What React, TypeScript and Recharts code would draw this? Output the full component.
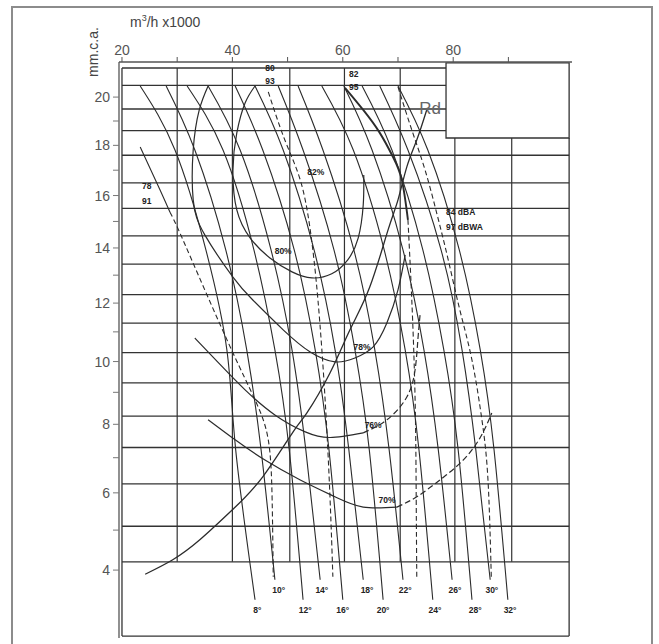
import React from 'react';
import { ComposedChart, Line, Scatter, XAxis, YAxis, ReferenceArea } from 'recharts';

// pressure axis is a power scale (exponent 0.65) - values are transformed before plotting
const EXP = 0.65;
const T = (p: number) => Math.pow(p, EXP);

const flowTicks = [20, 30, 40, 50, 60, 70, 80, 90];
const pressureTicks = [4, 5, 6, 7, 8, 9, 10, 11, 12, 13, 14, 15, 16, 17, 18, 19, 20];

// chart frame (data units)
const qMin = 19.46;
const qMax = 101.52;
const pMin = 2.49;
const pMax = 21.5;
const qFrameLeft = 20;
const qFrameRight = 101;
const pFrameTop = 21.24;
const pFrameBottom = 2.53;
const pGridBottom = 4.2;
const qBoxLeft = 78.7;
const pBoxBottom = 18.3;
const pBoxTop = 21.46;

// printed grid of the diagram
const gridTopP = [20.5, 19.5, 18.6];
const gridFullP = [17.6, 16.5, 15.5, 14.45, 13.4, 12.3, 11.3, 10.3, 9.3, 8.25, 7.3, 6.25, 5.1, 4.2];
const gridQ = [30, 40, 50.4, 60.3, 70.4];
const gridQShort = [80.3, 90.6];

// blade pitch curves (flow values at the pressures below)
const pitchDeg = [8, 10, 12, 14, 16, 18, 20, 22, 24, 26, 28, 30, 32];
const pitchPLong = [20.47, 17.81, 13.93, 10.39, 7.23, 3.31];
const pitchPShort = [20.47, 17.81, 13.93, 10.39, 7.23, 3.77];
const pitch8 = [23.3, 29.6, 35.2, 39.0, 40.6, 44.1];
const pitch10 = [28.0, 33.2, 38.8, 42.6, 45.2, 47.7];
const pitch12 = [31.8, 38.3, 43.9, 47.7, 50.3, 52.8];
const pitch14 = [35.6, 41.4, 47.0, 50.8, 53.3, 55.9];
const pitch16 = [40.5, 45.5, 51.2, 55.0, 57.5, 60.0];
const pitch18 = [44.1, 49.2, 54.8, 58.6, 61.1, 63.7];
const pitch20 = [48.3, 52.8, 58.4, 62.2, 64.8, 67.3];
const pitch22 = [51.9, 56.4, 62.0, 65.8, 68.4, 70.9];
const pitch24 = [56.2, 61.9, 67.5, 71.3, 73.8, 76.3];
const pitch26 = [60.2, 65.3, 70.9, 74.7, 77.3, 79.8];
const pitch28 = [63.5, 68.9, 74.5, 78.3, 80.9, 83.4];
const pitch30 = [66.7, 71.8, 77.8, 81.6, 84.1, 86.7];
const pitch32 = [70.0, 75.4, 81.1, 84.9, 87.4, 89.9];
const pitchLabelQ = [44.5, 48.4, 53.2, 56.2, 60.0, 64.4, 67.3, 71.3, 76.7, 80.3, 84.0, 87.0, 90.3];
const pitchLabelPLow = 3.09;
const pitchLabelPHigh = 3.54;

// system resistance curve Rd  [flow, pressure]
const rdCurve = [
  [24.2, 3.9], [29.2, 4.25], [34.1, 4.75], [40.1, 5.55], [45.5, 6.45], [51.0, 7.77], [53.5, 8.35],
  [57.7, 9.63], [61.3, 11.07], [64.9, 12.58], [68.2, 14.68], [70.0, 15.83], [71.6, 17.13], [73.4, 18.22], [75.2, 19.46],
];

// iso-noise curves [flow, pressure]
const noise78Solid = [
  [23.3, 17.93], [26.9, 16.22], [28.7, 15.35],
];
const noise78Dash = [
  [28.7, 15.35], [30.5, 14.56], [35.0, 12.47], [40.1, 10.29], [44.1, 8.76], [46.5, 7.53], [47.2, 5.81], [47.4, 3.84],
];
const noise80 = [
  [46.5, 20.22], [49.5, 18.22], [52.3, 16.61], [54.1, 14.68], [55.5, 12.11], [56.8, 8.76], [57.7, 5.81], [58.2, 3.84],
];
const noise82Solid = [
  [60.4, 20.39], [63.7, 19.46], [66.7, 18.51], [69.1, 17.53], [70.7, 16.61], [71.8, 15.06],
];
const noise82Dash = [
  [71.8, 15.06], [72.5, 12.11], [73.1, 8.76], [73.3, 5.81], [73.4, 3.84],
];
const noise84 = [
  [70.0, 20.43], [72.5, 18.63], [74.9, 17.01], [77.1, 15.25], [79.1, 13.56], [81.2, 11.76], [83.4, 10.05], [85.2, 8.14], [86.3, 6.36], [86.9, 3.84],
];

// efficiency curves [flow, pressure]
const eff80 = [
  [44.1, 20.47], [42.3, 19.75], [40.8, 18.51], [40.1, 17.01], [40.8, 15.44], [43.2, 14.38], [46.8, 13.63],
  [50.8, 13.12], [54.4, 12.9], [58.0, 13.05], [60.9, 13.56], [62.8, 14.38], [63.7, 15.63], [63.8, 16.81],
];
const eff78 = [
  [35.6, 20.47], [34.0, 19.46], [32.9, 17.81], [32.9, 15.83], [35.0, 14.49], [40.1, 12.93], [43.7, 12.11],
  [49.2, 11.07], [54.1, 10.32], [58.6, 9.99], [62.2, 10.12], [65.5, 10.49], [68.0, 11.31], [70.0, 12.47], [71.3, 13.74],
];
const eff76Solid = [
  [33.2, 10.79], [37.8, 9.9], [42.3, 9.08], [47.7, 8.29], [53.2, 7.77], [57.7, 7.6], [63.7, 7.74],
];
const eff76Dash = [
  [63.7, 7.74], [68.0, 8.14], [71.6, 8.85], [73.1, 9.73], [73.6, 10.73], [74.0, 11.59],
];
const eff70Solid = [
  [35.6, 8.14], [40.5, 7.53], [45.9, 6.93], [52.3, 6.36], [58.6, 5.89], [63.7, 5.61], [69.8, 5.61],
];
const eff70Dash = [
  [69.8, 5.61], [73.4, 5.89], [77.6, 6.36], [81.8, 6.93], [84.9, 7.6], [87.0, 8.35],
];

const curveLabels = [
  { q: 46.8, p: 21.24, text: '80', anchor: 'middle' },
  { q: 46.8, p: 20.69, text: '93', anchor: 'middle' },
  { q: 62.0, p: 20.98, text: '82', anchor: 'middle' },
  { q: 62.0, p: 20.43, text: '95', anchor: 'middle' },
  { q: 24.5, p: 16.38, text: '78', anchor: 'middle' },
  { q: 24.5, p: 15.79, text: '91', anchor: 'middle' },
  { q: 78.7, p: 15.37, text: '84  dBA', anchor: 'start' },
  { q: 78.7, p: 14.79, text: '97  dBWA', anchor: 'start' },
  { q: 55.1, p: 16.93, text: '82%', anchor: 'middle' },
  { q: 49.2, p: 13.89, text: '80%', anchor: 'middle' },
  { q: 63.5, p: 10.49, text: '78%', anchor: 'middle' },
  { q: 65.5, p: 7.98, text: '76%', anchor: 'middle' },
  { q: 68.0, p: 5.81, text: '70%', anchor: 'middle' },
];
const rdLabel = [{ q: 75.8, p: 19.54, text: 'Rd', anchor: 'middle' }];

const INK = '#2b2b2b';
const FONT = '"Liberation Sans", Arial, sans-serif';

const toPts = (arr: number[][]) => arr.map(([q, p]) => ({ q, y: T(p) }));
const zipPts = (qs: number[], ps: number[]) => qs.map((q, i) => ({ q, y: T(ps[i]) }));

const pitchQs = [pitch8, pitch10, pitch12, pitch14, pitch16, pitch18, pitch20, pitch22, pitch24, pitch26, pitch28, pitch30, pitch32];

const pitchLabelData = pitchDeg.map((d, i) => ({
  q: pitchLabelQ[i],
  y: T(i % 2 === 0 ? pitchLabelPLow : pitchLabelPHigh),
  text: `${d}°`,
  anchor: 'middle',
}));
const curveLabelData = curveLabels.map((l) => ({ q: l.q, y: T(l.p), text: l.text, anchor: l.anchor }));
const rdLabelData = rdLabel.map((l) => ({ q: l.q, y: T(l.p), text: l.text, anchor: l.anchor }));

const makeLabel = (size: number, color: string, weight: string) => (props: any) => {
  const { cx, cy, payload } = props;
  if (cx == null || cy == null) return <g />;
  return (
    <text x={cx} y={cy} textAnchor={payload.anchor} dominantBaseline="central" fontSize={size} fontFamily={FONT} fontWeight={weight} fill={color}>
      {payload.text}
    </text>
  );
};

type LOpts = { stroke?: string; width?: number; dash?: string; type?: any };
const line = (key: string, data: any[], o: LOpts = {}) => (
  <Line
    key={key}
    data={data}
    dataKey="y"
    type={o.type ?? 'natural'}
    stroke={o.stroke ?? INK}
    strokeWidth={o.width ?? 1.1}
    strokeDasharray={o.dash}
    dot={false}
    activeDot={false}
    isAnimationActive={false}
    legendType="none"
  />
);

export default function App() {
  const gridLines: React.ReactNode[] = [];
  gridTopP.forEach((p, i) => gridLines.push(line(`gt${i}`, [{ q: qFrameLeft, y: T(p) }, { q: qBoxLeft, y: T(p) }], { type: 'linear', width: 1.3, stroke: '#333' })));
  gridFullP.forEach((p, i) => gridLines.push(line(`gf${i}`, [{ q: qFrameLeft, y: T(p) }, { q: qFrameRight, y: T(p) }], { type: 'linear', width: 1.3, stroke: '#333' })));
  gridQ.forEach((q, i) => gridLines.push(line(`gv${i}`, [{ q, y: T(pFrameTop) }, { q, y: T(pGridBottom) }], { type: 'linear', width: 1.2, stroke: '#333' })));
  gridQShort.forEach((q, i) => gridLines.push(line(`gs${i}`, [{ q, y: T(pBoxBottom) }, { q, y: T(pGridBottom) }], { type: 'linear', width: 1.2, stroke: '#333' })));
  // frame of the diagram
  gridLines.push(line('fl', [{ q: qFrameLeft, y: T(pFrameBottom) }, { q: qFrameLeft, y: T(pFrameTop) }], { type: 'linear', width: 1.3, stroke: '#333' }));
  gridLines.push(line('fr', [{ q: qFrameRight, y: T(pFrameBottom) }, { q: qFrameRight, y: T(pBoxBottom) }], { type: 'linear', width: 1.3, stroke: '#333' }));
  gridLines.push(line('fb', [{ q: qFrameLeft, y: T(pFrameBottom) }, { q: qFrameRight, y: T(pFrameBottom) }], { type: 'linear', width: 1.3, stroke: '#333' }));
  gridLines.push(line('ft', [{ q: qFrameLeft, y: T(pFrameTop) }, { q: qBoxLeft, y: T(pFrameTop) }], { type: 'linear', width: 1.3, stroke: '#333' }));

  const pitchLines = pitchQs.map((qs, i) => line(`pitch${i}`, zipPts(qs, i % 2 === 0 ? pitchPLong : pitchPShort), { width: 1.1 }));

  return (
    <div style={{ position: 'relative', width: 659, height: 644, overflow: 'hidden', background: '#fff' }}>
      <style>{'body{margin:0;}'}</style>
      <div style={{ position: 'absolute', left: 11, top: 6, width: 638, height: 700, border: '2px solid #8c8c8c' }} />
      <div style={{ position: 'absolute', left: 0, top: 0 }}>
        <ComposedChart width={659} height={644} margin={{ top: 22, right: 87, bottom: 6, left: 59 }}>
          <XAxis
            type="number"
            dataKey="q"
            orientation="top"
            domain={[qMin, qMax]}
            allowDataOverflow
            ticks={flowTicks}
            tickFormatter={(v: number) => (v % 20 === 0 ? String(v) : '')}
            height={40}
            tickSize={5}
            tickMargin={2}
            axisLine={{ stroke: '#555', strokeWidth: 1.3 }}
            tickLine={{ stroke: '#555' }}
            tick={{ fill: '#555', fontSize: 14, fontFamily: FONT }}
          />
          <YAxis
            type="number"
            dataKey="y"
            domain={[T(pMin), T(pMax)]}
            allowDataOverflow
            ticks={pressureTicks.map(T)}
            tickFormatter={(v: number) => {
              const p = Math.round(Math.pow(v, 1 / EXP));
              return p % 2 === 0 ? String(p) : '';
            }}
            width={60}
            tickSize={6}
            tickMargin={3}
            axisLine={{ stroke: '#555', strokeWidth: 1.3 }}
            tickLine={{ stroke: '#777' }}
            tick={{ fill: '#555', fontSize: 14, fontFamily: FONT }}
          />
          {gridLines}
          {pitchLines}
          {line('rd', toPts(rdCurve), { width: 1.3 })}
          {line('n78s', toPts(noise78Solid), { width: 1.1 })}
          {line('n78d', toPts(noise78Dash), { dash: '5 3' })}
          {line('n80', toPts(noise80), { dash: '5 3' })}
          {line('n82s', toPts(noise82Solid), { width: 1.9 })}
          {line('n82d', toPts(noise82Dash), { dash: '5 3' })}
          {line('n84', toPts(noise84), { dash: '5 3' })}
          {line('e80', toPts(eff80), { width: 1.2 })}
          {line('e78', toPts(eff78), { width: 1.2 })}
          {line('e76s', toPts(eff76Solid), { width: 1.2 })}
          {line('e76d', toPts(eff76Dash), { width: 1.2, dash: '6 3' })}
          {line('e70s', toPts(eff70Solid), { width: 1.2 })}
          {line('e70d', toPts(eff70Dash), { width: 1.2, dash: '6 3' })}
          <ReferenceArea x1={qBoxLeft} x2={qFrameRight} y1={T(pBoxBottom)} y2={T(pBoxTop)} fill="#fff" fillOpacity={1} stroke="#333" strokeWidth={1.3} ifOverflow="visible" />
          <Scatter data={pitchLabelData} shape={makeLabel(8.5, '#222', 'bold')} isAnimationActive={false} legendType="none" />
          <Scatter data={curveLabelData} shape={makeLabel(8.5, '#222', 'bold')} isAnimationActive={false} legendType="none" />
          <Scatter data={rdLabelData} shape={makeLabel(17, '#666', 'normal')} isAnimationActive={false} legendType="none" />
        </ComposedChart>
      </div>
      <div style={{ position: 'absolute', left: 130, top: 13, fontFamily: FONT, fontSize: 14, color: '#444', whiteSpace: 'nowrap' }}>
        m<sup style={{ fontSize: 9 }}>3</sup>/h x1000
      </div>
      <div style={{ position: 'absolute', left: 93, top: 52, transform: 'translate(-50%, -50%) rotate(-90deg)', fontFamily: FONT, fontSize: 14, color: '#444', whiteSpace: 'nowrap' }}>
        mm.c.a.
      </div>
    </div>
  );
}
